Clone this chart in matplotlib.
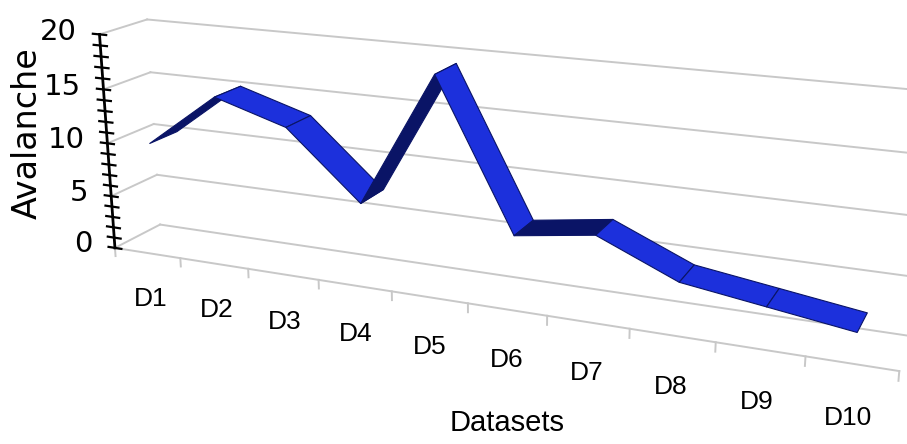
import numpy as np
import matplotlib
matplotlib.use("Agg")
from matplotlib import pyplot as plt
from mpl_toolkits.mplot3d.art3d import Poly3DCollection

datasets = ['D1', 'D2', 'D3', 'D4', 'D5', 'D6', 'D7', 'D8', 'D9', 'D10']
avalanche = [10, 15, 13, 7, 19, 6, 7, 4, 3, 2]
value_ticks = [0, 5, 10, 15, 20]
unit_ticks = list(range(0, 21))

grid_color = '#c8c8c8'
blue = '#1c30dc'
dark = '#0a1466'
label_font = ['Liberation Sans', 'DejaVu Sans']

fig = plt.figure(figsize=(9.07, 4.44), dpi=100)
ax = fig.add_axes([0.028, 0.087, 1.0, 1.0], projection='3d', proj_type='persp', focal_length=0.66)
ax.view_init(elev=17, azim=-67)
ax.set_box_aspect((7.8, 0.8, 2.2), zoom=1.93)
ax.set_axis_off()

n = len(datasets)
ax.set_xlim(0, n)
ax.set_ylim(0, 1)
ax.set_zlim(0, 20)

# back wall + side wall gridlines
for v in value_ticks:
    ax.plot([0, n], [1, 1], [v, v], color=grid_color, lw=1.4, clip_on=False)
    ax.plot([0, 0], [0, 1], [v, v], color=grid_color, lw=1.4, clip_on=False)

# floor front edge with ticks
ax.plot([0, n], [0, 0], [0, 0], color=grid_color, lw=1.4, clip_on=False)
for i in range(n + 1):
    ax.plot([i, i], [0, 0], [0, -0.8], color=grid_color, lw=1.4, clip_on=False)

# value axis with a tick at every unit
ax.plot([0, 0], [0, 0], [0, 20], color='black', lw=2, clip_on=False)
for t in unit_ticks:
    ax.plot([-0.1, 0.1], [0, 0], [t, t], color='black', lw=1.6, clip_on=False)
for v in value_ticks:
    ax.text(-0.35, 0, v, str(v), ha='right', va='center', fontsize=21)

# ribbon
xs = np.arange(n) + 0.5
y0, y1 = 0.2, 0.8
polys = []
colors = []
for i in range(n - 1):
    a, b = avalanche[i], avalanche[i + 1]
    polys.append([(xs[i], y0, a), (xs[i + 1], y0, b), (xs[i + 1], y1, b), (xs[i], y1, a)])
    colors.append(dark if b > a else blue)
ribbon = Poly3DCollection(polys, facecolors=colors, edgecolors=dark, linewidths=0.8)
ribbon.set_clip_on(False)
ax.add_collection3d(ribbon)

for i, name in enumerate(datasets):
    ax.text(xs[i], 0, -4.5, name, ha='center', va='center', fontsize=19, family=label_font)

fig.text(0.030, 0.70, 'Avalanche', rotation=90, ha='center', va='center', fontsize=24)
fig.text(0.559, 0.047, 'Datasets', ha='center', va='center', fontsize=21, family=label_font)

plt.savefig('out.png', dpi=100)
